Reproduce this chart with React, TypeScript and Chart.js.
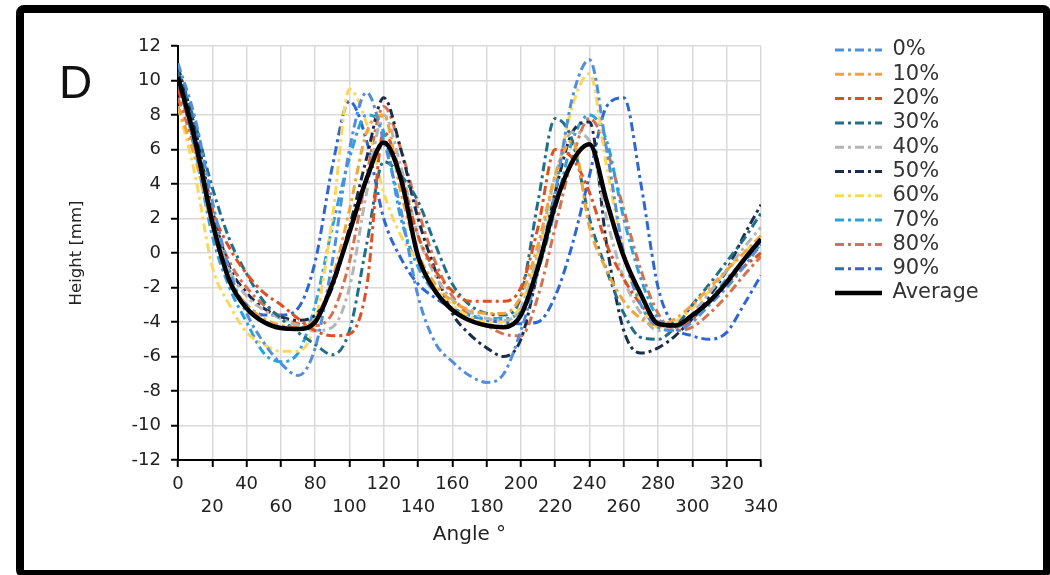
import React, { useEffect, useRef } from 'react';
import { Chart, registerables } from 'chart.js';

Chart.register(...registerables);

const angles = [0, 10, 20, 30, 40, 50, 60, 70, 80, 90, 100, 110, 120, 130, 140, 150, 160, 170, 180, 190, 200, 210, 220, 230, 240, 250, 260, 270, 280, 290, 300, 310, 320, 330, 340];

const series0 = [11.0, 7.8, 3.0, -1.0, -3.5, -5.2, -6.4, -7.1, -5.5, -0.5, 6.0, 9.3, 6.5, 2.5, -2.5, -5.2, -6.3, -7.1, -7.5, -7.0, -4.5, -1.0, 3.5, 9.0, 11.2, 6.0, 0.0, -3.0, -4.3, -4.5, -4.0, -3.0, -2.0, -0.8, 0.5];
const series10 = [8.5, 5.5, 1.5, -1.5, -3.0, -3.8, -4.2, -4.3, -3.8, -1.5, 2.5, 7.0, 8.0, 3.5, 0.0, -1.8, -2.8, -3.3, -3.5, -3.5, -2.5, 0.5, 4.5, 6.5, 1.5, -1.0, -2.8, -3.8, -4.2, -3.8, -3.0, -2.0, -1.0, 0.0, 1.0];
const series20 = [9.5, 6.5, 2.5, 0.3, -1.2, -2.3, -3.0, -3.8, -4.5, -4.8, -4.7, -2.0, 7.0, 4.5, 1.0, -1.0, -2.2, -2.8, -2.8, -2.8, -2.0, 1.5, 6.0, 5.5, 3.5, 0.5, -1.5, -3.0, -4.0, -4.3, -3.8, -2.8, -1.8, -0.8, 0.0];
const series30 = [10.5, 7.5, 3.8, 0.8, -1.2, -2.8, -3.8, -4.6, -5.3, -5.9, -4.5, 0.5, 5.3, 4.5, 3.0, 0.5, -1.8, -3.0, -3.5, -3.6, -2.5, 3.0, 7.8, 6.5, 2.0, -1.0, -3.5, -4.9, -5.0, -4.3, -3.0, -1.8, -0.5, 0.8, 2.3];
const series40 = [10.0, 6.5, 2.0, -1.0, -2.5, -3.3, -3.8, -4.2, -4.5, -4.3, -2.0, 3.5, 8.0, 5.0, 1.0, -1.3, -2.7, -3.4, -3.8, -3.9, -3.2, 0.0, 4.5, 7.0, 6.5, 2.0, -1.5, -3.5, -4.5, -4.3, -3.5, -2.3, -1.0, 0.3, 1.5];
const series50 = [10.8, 7.2, 2.5, -0.8, -2.3, -3.2, -3.7, -3.9, -3.6, -2.0, 1.5, 5.5, 9.0, 6.0, 2.0, -1.0, -3.5, -4.7, -5.5, -6.0, -5.0, -1.0, 3.5, 7.0, 7.6, 0.5, -4.5, -5.8, -5.5, -4.8, -3.8, -2.5, -1.0, 1.0, 2.8];
const series60 = [8.5, 4.5, -0.8, -3.0, -4.6, -5.3, -5.7, -5.7, -4.0, 2.0, 9.5, 7.5, 3.5, 1.0, -0.5, -2.0, -3.0, -3.7, -4.0, -4.0, -3.0, 0.0, 4.0, 8.5, 10.4, 5.0, 0.0, -3.0, -4.3, -4.0, -3.2, -2.2, -1.0, 0.0, 1.0];
const series70 = [10.0, 6.0, 1.0, -2.0, -4.0, -5.8, -6.3, -5.8, -3.0, 1.5, 5.5, 8.0, 7.0, 2.0, -0.8, -2.3, -3.2, -3.6, -3.8, -3.8, -3.3, -1.0, 2.5, 6.5, 8.0, 6.5, 2.0, -1.5, -3.8, -4.3, -3.8, -2.8, -1.5, -0.5, 0.5];
const series80 = [9.0, 6.0, 2.0, -0.5, -2.0, -3.0, -3.7, -4.1, -4.2, -3.5, -0.5, 4.5, 8.5, 6.0, 2.5, -0.5, -2.5, -3.6, -4.2, -4.7, -4.8, -2.5, 1.5, 5.5, 7.8, 6.0, 2.5, -1.0, -3.5, -4.5, -4.3, -3.5, -2.5, -1.3, -0.2];
const series90 = [10.5, 7.0, 2.0, -1.5, -3.0, -3.6, -3.6, -3.2, -0.5, 5.0, 8.8, 6.5, 2.0, -0.3, -1.8, -2.6, -3.2, -3.6, -3.9, -4.0, -4.1, -4.0, -2.5, 0.5, 4.5, 8.5, 9.0, 4.0, -2.0, -4.3, -4.8, -5.0, -4.6, -3.0, -1.3];
const averageSeries = [10.2, 6.5, 1.8, -1.6, -3.2, -4.0, -4.35, -4.4, -4.0, -1.8, 1.2, 4.3, 6.4, 4.3, -0.2, -2.2, -3.3, -3.9, -4.2, -4.3, -3.6, -0.8, 2.8, 5.3, 6.3, 3.0, -0.2, -2.4, -4.1, -4.2, -3.6, -2.8, -1.7, -0.4, 0.8];

const seriesLabels = ['0%', '10%', '20%', '30%', '40%', '50%', '60%', '70%', '80%', '90%'];
const seriesValues = [series0, series10, series20, series30, series40, series50, series60, series70, series80, series90];
const seriesColors = ['#4F8FDD', '#F2A43A', '#E0501E', '#1F6F8B', '#B5B5B5', '#1B2D4B', '#FFD65C', '#29A3DB', '#D8704D', '#2F66D2'];
const averageLabel = 'Average';

const FONT = 'DejaVu Sans';

export default function App() {
  const ref = useRef<HTMLCanvasElement>(null);

  useEffect(() => {
    document.body.style.margin = '0';
    const toPts = (vals: number[]) => angles.map((a, i) => ({ x: a, y: vals[i] }));
    const datasets: any[] = seriesValues.map((vals, i) => ({
      label: seriesLabels[i],
      data: toPts(vals),
      borderColor: seriesColors[i],
      backgroundColor: 'transparent',
      borderWidth: 3,
      borderDash: [9, 4, 3, 4],
      pointRadius: 0,
      cubicInterpolationMode: 'monotone',
      fill: false,
      order: 1,
    }));
    datasets.push({
      label: averageLabel,
      data: toPts(averageSeries),
      borderColor: '#000000',
      backgroundColor: 'transparent',
      borderWidth: 4.5,
      borderDash: [],
      pointRadius: 0,
      cubicInterpolationMode: 'monotone',
      fill: false,
      order: 0,
    });

    const extras = {
      id: 'extras',
      afterLayout(chart: any) {
        const lg = chart.legend;
        if (lg) {
          const w = lg.width;
          const h = lg.height;
          lg.left = 831.7;
          lg.right = lg.left + w;
          lg.top = 36.2;
          lg.bottom = lg.top + h;
        }
      },
      afterDraw(chart: any) {
        const ctx = chart.ctx;
        ctx.save();
        ctx.fillStyle = '#111';
        ctx.font = '46px "Liberation Sans"';
        ctx.textBaseline = 'alphabetic';
        ctx.fillText('D', 59, 98);
        ctx.restore();
      },
    };

    const tickFont = { family: FONT, size: 18, lineHeight: 1.3 };
    const defaultGen = (Chart.defaults as any).plugins.legend.labels.generateLabels;

    const chart = new Chart(ref.current as HTMLCanvasElement, {
      type: 'line',
      data: { datasets },
      options: {
        animation: false,
        responsive: false,
        maintainAspectRatio: false,
        devicePixelRatio: 1,
        layout: { padding: { left: 60, top: 46, right: 132, bottom: 20 } },
        plugins: {
          legend: {
            position: 'right',
            align: 'start',
            labels: {
              usePointStyle: true,
              pointStyle: 'line',
              pointStyleWidth: 47,
              padding: 3.3,
              color: '#333',
              font: { family: FONT, size: 21 },
              generateLabels: (c: any) =>
                defaultGen(c).map((it: any) => {
                  const ds = c.data.datasets[it.datasetIndex];
                  return {
                    ...it,
                    pointStyle: 'line',
                    lineDash: ds.borderDash || [],
                    lineWidth: ds.borderWidth,
                    strokeStyle: ds.borderColor,
                    fillStyle: 'transparent',
                  };
                }),
              sort: (a: any, b: any) => a.datasetIndex - b.datasetIndex,
            },
          },
          tooltip: { enabled: false },
        },
        scales: {
          x: {
            type: 'linear',
            min: 0,
            max: 340,
            ticks: {
              stepSize: 20,
              autoSkip: false,
              maxRotation: 0,
              minRotation: 0,
              padding: 5.3,
              color: '#222',
              font: tickFont,
              callback: (v: any, i: number) => (i % 2 === 0 ? String(v) : ['', String(v)]),
            },
            grid: { color: '#dadada', lineWidth: 1.5, tickLength: 7, tickColor: '#000', tickWidth: 2 },
            border: { color: '#000', width: 2 },
            title: {
              display: true,
              text: 'Angle °',
              color: '#222',
              font: { family: FONT, size: 20 },
              padding: { top: 4, bottom: 8 },
            },
            afterFit: (s: any) => {
              s.height = 95;
            },
          },
          y: {
            min: -12,
            max: 12,
            ticks: { stepSize: 2, padding: 10, color: '#222', font: tickFont },
            grid: { color: '#dadada', lineWidth: 1.5, tickLength: 7, tickColor: '#000', tickWidth: 2 },
            border: { color: '#000', width: 2 },
            title: {
              display: true,
              text: 'Height [mm]',
              color: '#222',
              font: { family: FONT, size: 16.5 },
              padding: { top: 7, bottom: 0 },
            },
            afterFit: (s: any) => {
              s.width = 118;
            },
          },
        },
      } as any,
      plugins: [extras],
    });
    return () => chart.destroy();
  }, []);

  return (
    <div style={{ position: 'fixed', left: 0, top: 0, width: 1050, height: 575, background: '#fff', overflow: 'hidden' }}>
      <canvas ref={ref} width={1050} height={575} style={{ position: 'absolute', left: 0, top: 0, width: 1050, height: 575 }} />
      <div
        style={{
          position: 'absolute',
          left: 16,
          top: 5,
          width: 1035,
          height: 573,
          border: '8px solid #000',
          borderRadius: 8,
          boxSizing: 'border-box',
          pointerEvents: 'none',
        }}
      />
    </div>
  );
}
